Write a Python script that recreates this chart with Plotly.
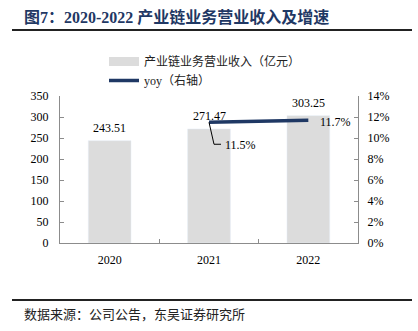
import plotly.graph_objects as go

years = ["2020", "2021", "2022"]
revenue = [243.51, 271.47, 303.25]
yoy = [None, 11.5, 11.7]

bar_name = "产业链业务营业收入（亿元）"
line_name = "yoy（右轴）"
title_text = "图7：2020-2022 产业链业务营业收入及增速"
source_text = "数据来源：公司公告，东吴证券研究所"

NAVY = "#1f3864"
BAR = "#dcdcdc"
AXIS = "#8c8c8c"
SERIF = "Times New Roman, Liberation Serif, Noto Sans CJK SC, serif"

W, H = 418, 331
L, R, T, B = 60, 60, 96, 88
pw, ph = W - L - R, H - T - B
def px2paper(px, py):
    return (px - L) / pw, (H - B - py) / ph

fig = go.Figure()
fig.add_trace(go.Bar(x=years, y=revenue, name=bar_name, marker_color=BAR,
                     width=0.43, showlegend=False, legendgroup="bar"))
# legend swatch for bar series
fig.add_trace(go.Scatter(x=[None], y=[None], mode="lines", name=bar_name,
                         line=dict(color=BAR, width=9), legendgroup="bar"))
fig.add_trace(go.Scatter(x=years, y=yoy, name=line_name, mode="lines",
                         line=dict(color=NAVY, width=3.5), yaxis="y2"))

lab_font = dict(size=12, color="black", family=SERIF)
annotations = []
for i, v in enumerate(revenue):
    annotations.append(dict(x=i, y=v, xref="x", yref="y", text=f"{v:.2f}",
                            showarrow=False, yanchor="bottom", yshift=4, font=lab_font))
# yoy labels
annotations.append(dict(x=2, y=yoy[2], xref="x", yref="y2", text=f"{yoy[2]:.1f}%",
                        showarrow=False, xanchor="left", xshift=10, yshift=-2, font=lab_font))
annotations.append(dict(x=1, y=yoy[1], xref="x", yref="y2", text=f"{yoy[1]:.1f}%",
                        showarrow=False, xanchor="left", xshift=14, yshift=-23, font=lab_font))
tx, ty = px2paper(22, 17)
annotations.append(dict(x=tx, y=ty, xref="paper", yref="paper", text="<b>" + title_text + "</b>",
                        showarrow=False, xanchor="left", yanchor="middle",
                        font=dict(size=16, color=NAVY, family=SERIF)))
sx, sy = px2paper(22, 313)
annotations.append(dict(x=sx, y=sy, xref="paper", yref="paper", text=source_text,
                        showarrow=False, xanchor="left", yanchor="middle",
                        font=dict(size=13, color="#222222", family="Noto Sans CJK SC, sans-serif")))

x0, y0 = px2paper(12, 30)
x1, _ = px2paper(412, 30)
_, y2 = px2paper(12, 300)
shapes = [
    dict(type="line", xref="paper", yref="paper", x0=x0, x1=x1, y0=y0, y1=y0,
         line=dict(color="#222222", width=2)),
    dict(type="line", xref="paper", yref="paper", x0=x0, x1=x1, y0=y2, y1=y2,
         line=dict(color="#222222", width=2)),
    # leader line for 2021 yoy label
    dict(type="path", xref="x", yref="y2", xsizemode="pixel", ysizemode="pixel",
         xanchor=1, yanchor=yoy[1], path="M0,0 L5,-22 L12,-22",
         line=dict(color="black", width=1)),
]

lx, ly = px2paper(104, 47)
fig.update_layout(
    width=W, height=H,
    margin=dict(l=L, r=R, t=T, b=B, pad=0),
    paper_bgcolor="white", plot_bgcolor="white",
    font=dict(family=SERIF, size=12, color="black"),
    annotations=annotations, shapes=shapes,
    legend=dict(x=lx, y=ly, xanchor="left", yanchor="top", bgcolor="rgba(0,0,0,0)",
                font=dict(size=12, family=SERIF, color="#222222"),
                tracegroupgap=0, itemwidth=30),
    xaxis=dict(type="category", range=[-0.5, 2.5], showline=True, linecolor=AXIS, linewidth=1,
               ticks="inside", tickson="boundaries", ticklen=4, tickcolor=AXIS,
               showgrid=False, ticklabelstandoff=6, tickfont=dict(size=12)),
    yaxis=dict(range=[0, 350], dtick=50, showline=True, linecolor=AXIS, ticks="inside",
               ticklen=4, tickcolor=AXIS, showgrid=False, zeroline=False,
               ticklabelstandoff=8, tickfont=dict(size=12)),
    yaxis2=dict(range=[0, 14], dtick=2, ticksuffix="%", overlaying="y", side="right",
                showline=True, linecolor=AXIS, ticks="inside", ticklen=4, tickcolor=AXIS,
                showgrid=False, zeroline=False, ticklabelstandoff=6, tickfont=dict(size=12)),
)

fig.write_html("out.html")
